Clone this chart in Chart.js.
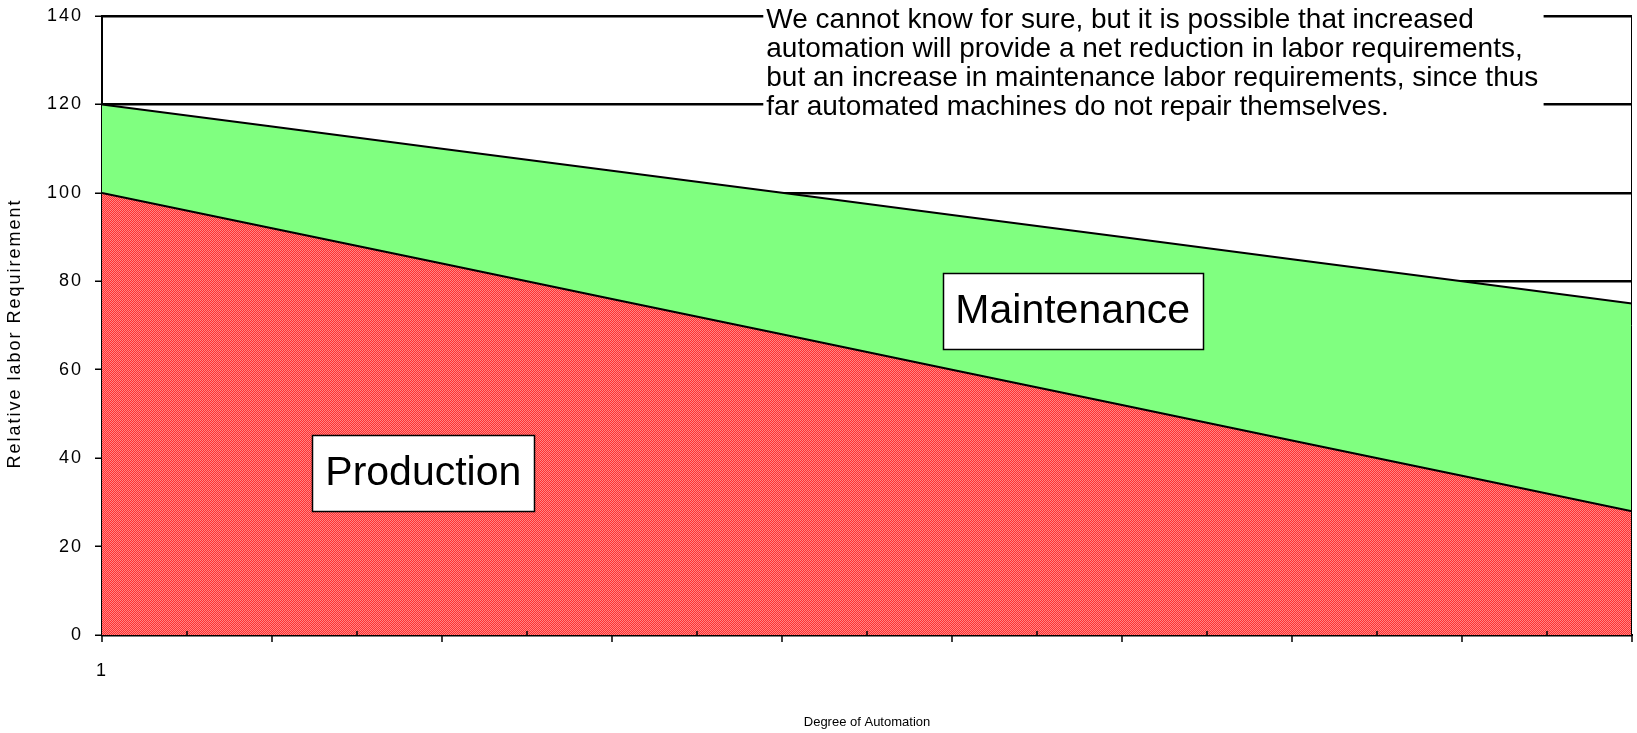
<!DOCTYPE html>
<html><head><meta charset="utf-8">
<script src="https://cdn.jsdelivr.net/npm/chart.js@4.4.1/dist/chart.umd.min.js"></script>
<style>html,body{margin:0;padding:0;background:#fff}#wrap{width:1637px;height:733px;position:relative}canvas{display:block}</style>
</head><body><div id="wrap"><canvas id="c" width="1637" height="733"></canvas></div>
<script>
// ---- data ----
const degree = [1, 2, 3, 4, 5, 6, 7, 8, 9, 10];
const production = [100, 92, 84, 76, 68, 60, 52, 44, 36, 28];
const maintenance = [20, 23, 26, 29, 32, 35, 38, 41, 44, 47];
const xTickLabels = ['1'];
const yTickValues = [0, 20, 40, 60, 80, 100, 120, 140];
const xTitle = 'Degree of Automation';
const yTitle = 'Relative labor Requirement';
const noteLines = [
  'We cannot know for sure, but it is possible that increased',
  'automation will provide a net reduction in labor requirements,',
  'but an increase in maintenance labor requirements, since thus',
  'far automated machines do not repair themselves.'
];
const FONT = "'Liberation Sans', Arial, Helvetica, sans-serif";
const TICK_SPACING = '2px';

// checkered red fill pattern
const pc = document.createElement('canvas'); pc.width = 2; pc.height = 2;
const pctx = pc.getContext('2d');
pctx.fillStyle = '#FF3030'; pctx.fillRect(0, 0, 2, 2);
pctx.fillStyle = '#FF8484'; pctx.fillRect(0, 0, 1, 1); pctx.fillRect(1, 1, 1, 1);
const ctx = document.getElementById('c').getContext('2d');
const redPattern = ctx.createPattern(pc, 'repeat');

const deco = {
  id: 'deco',
  beforeLayout(chart) { chart.ctx.letterSpacing = TICK_SPACING; },
  beforeDraw(chart) { chart.ctx.letterSpacing = TICK_SPACING; },
  afterDraw(chart) {
    const { ctx, chartArea: a, scales: { x, y } } = chart;
    ctx.save();
    ctx.letterSpacing = '0px';
    ctx.strokeStyle = '#000';
    // right border
    ctx.lineWidth = 1;
    ctx.beginPath(); ctx.moveTo(a.right - 0.5, a.top); ctx.lineTo(a.right - 0.5, a.bottom); ctx.stroke();
    // x tick marks (major outside, minor inside)
    ctx.lineWidth = 1.5;
    x.ticks.forEach(t => {
      const px = Math.round(x.getPixelForValue(t.value));
      ctx.beginPath();
      if (Number.isInteger(t.value)) { ctx.moveTo(px, a.bottom); ctx.lineTo(px, a.bottom + 7); }
      else { ctx.moveTo(px, a.bottom); ctx.lineTo(px, a.bottom - 4); }
      ctx.stroke();
    });
    // axis titles
    ctx.fillStyle = '#000';
    ctx.textAlign = 'center'; ctx.textBaseline = 'middle';
    ctx.font = '13px ' + FONT;
    ctx.fillText(xTitle, (a.left + a.right) / 2, 722);
    ctx.save();
    ctx.translate(15, (a.top + a.bottom) / 2 + 8);
    ctx.rotate(-Math.PI / 2);
    ctx.font = '18px ' + FONT;
    ctx.letterSpacing = '2px';
    ctx.fillText(yTitle, 0, 0);
    ctx.restore();
    // note box
    const nl = x.getPixelForValue(4.89), nr = x.getPixelForValue(9.48);
    ctx.fillStyle = '#fff';
    ctx.fillRect(nl, 0, nr - nl, y.getPixelForValue(115.5));
    ctx.fillStyle = '#000';
    ctx.font = '28px ' + FONT;
    ctx.textBaseline = 'middle'; ctx.textAlign = 'left';
    noteLines.forEach((s, i) => ctx.fillText(s, nl + 3, 20 + i * 29));
    // labelled boxes
    const box = (cxv, cyv, w, h, text) => {
      const cx = x.getPixelForValue(cxv), cy = y.getPixelForValue(cyv);
      const l = Math.round(cx - w / 2) + 0.5, t = Math.round(cy - h / 2) + 0.5;
      ctx.fillStyle = '#fff'; ctx.fillRect(l, t, w, h);
      ctx.lineWidth = 1.5; ctx.strokeStyle = '#000'; ctx.strokeRect(l, t, w, h);
      ctx.fillStyle = '#000'; ctx.font = '41px ' + FONT;
      ctx.textAlign = 'center'; ctx.textBaseline = 'middle';
      ctx.fillText(text, cx, cy + 1);
    };
    box(2.89, 36.6, 222, 76, 'Production');
    box(6.71, 73.3, 260, 76, 'Maintenance');
    ctx.restore();
  }
};

new Chart(ctx, {
  type: 'line',
  data: {
    datasets: [
      { label: 'Production', data: degree.map((d, i) => ({ x: d, y: production[i] })),
        fill: 'origin', backgroundColor: redPattern, borderColor: '#000', borderWidth: 2 },
      { label: 'Maintenance', data: degree.map((d, i) => ({ x: d, y: maintenance[i] })),
        fill: '-1', backgroundColor: '#80FF80', borderColor: '#000', borderWidth: 2 }
    ]
  },
  options: {
    responsive: false, animation: false, devicePixelRatio: 1,
    layout: { padding: { top: 16, right: 5, left: 0, bottom: 0 } },
    plugins: { legend: { display: false }, tooltip: { enabled: false } },
    elements: { point: { radius: 0 }, line: { tension: 0 } },
    scales: {
      x: {
        type: 'linear', min: 1, max: 10,
        ticks: { stepSize: 0.5, autoSkip: false, maxRotation: 0, color: '#000', padding: 25,
          font: { family: FONT, size: 18 },
          callback: (v) => (v === degree[0] ? xTickLabels[0] : '') },
        grid: { display: false, drawTicks: false },
        border: { display: true, color: '#000', width: 2 },
        title: { display: false },
        afterFit(s) { s.height = 98; s.paddingLeft = 0; s.paddingRight = 0; }
      },
      y: {
        stacked: true, min: 0, max: 140,
        afterBuildTicks(s) { s.ticks = yTickValues.map(v => ({ value: v })); },
        ticks: { color: '#000', padding: 12, font: { family: FONT, size: 18 } },
        grid: { color: '#000', lineWidth: 2.5, drawTicks: true, tickLength: 7, tickWidth: 1.5, tickColor: '#000' },
        border: { color: '#000', width: 2 },
        title: { display: false },
        afterFit(s) { s.width = 102; s.paddingTop = 0; s.paddingBottom = 0; }
      }
    }
  },
  plugins: [deco]
});
</script></body></html>
